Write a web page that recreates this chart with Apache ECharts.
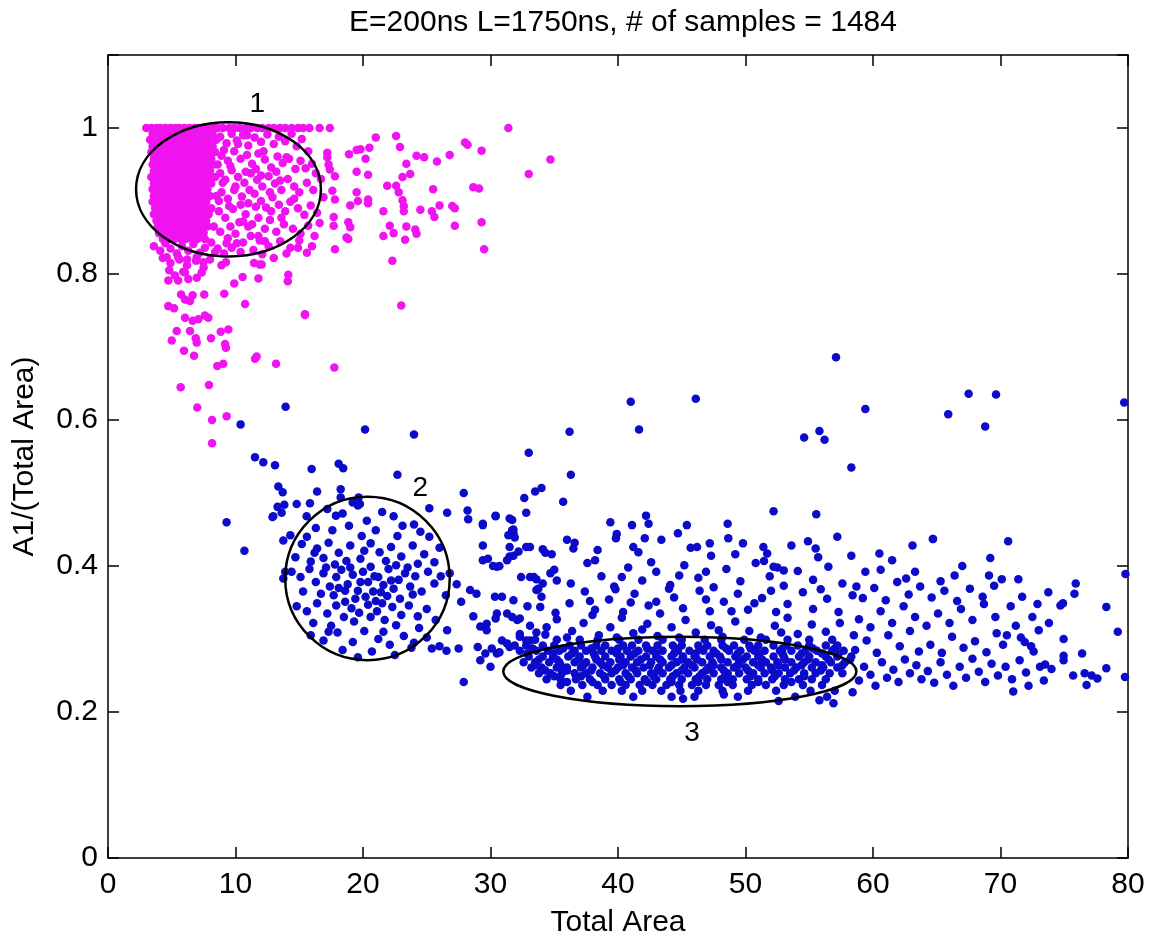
<!DOCTYPE html>
<html>
<head>
<meta charset="utf-8">
<script src="https://cdn.jsdelivr.net/npm/echarts@6/dist/echarts.min.js"></script>
<style>html,body{margin:0;padding:0;background:#fff}#c{width:1156px;height:940px}</style>
</head>
<body>
<div id="c"></div>
<script>
const titleText = 'E=200ns L=1750ns, # of samples = 1484';
const xName = 'Total Area';
const yName = 'A1/(Total Area)';
const xTicks = [0, 80, 10];
const yTicks = [0, 1.1, 0.2];

// magenta: points capped at A1/Total = 1
const magentaCapped = [[3.0,1],[3.4,1],[3.8,1],[4.1,1],[4.5,1],[4.9,1],[5.3,1],[5.6,1],[6.0,1],[6.4,1],[6.8,1],[7.1,1],[7.5,1],[7.9,1],[8.3,1],[8.6,1],[9.0,1],[9.5,1],[9.9,1],[10.3,1],[10.8,1],[11.2,1],[11.7,1],[12.1,1],[12.6,1],[13.0,1],[13.5,1],[13.9,1],[14.4,1],[14.9,1],[15.3,1],[15.8,1],[16.6,1],[17.4,1],[31.4,1]];

// magenta dense core: rows [y, x1, x2, ...]
const magentaCoreRows = [
[0.992,3.5,4.0,4.4,4.9,5.4,5.8,6.3,6.8,7.2,7.7,8.2],
[0.984,3.3,3.8,4.2,4.7,5.1,5.6,6.1,6.5,7.0,7.5,7.9,8.5],
[0.975,3.5,3.9,4.4,4.9,5.3,5.8,6.2,6.7,7.3,7.7,8.2],
[0.967,3.4,3.8,4.2,4.6,5.1,5.5,6.0,6.4,6.9,7.4,7.9,8.4],
[0.958,3.6,4.0,4.5,4.9,5.3,5.8,6.2,6.6,7.1,7.6,8.1],
[0.950,3.5,3.9,4.3,4.7,5.1,5.6,6.0,6.5,6.9,7.3,7.8,8.3],
[0.941,3.6,4.0,4.5,4.9,5.4,5.8,6.3,6.7,7.2,7.6,8.0],
[0.933,3.4,3.8,4.3,4.7,5.2,5.6,6.1,6.5,6.9,7.4,7.9,8.4],
[0.924,3.6,4.1,4.5,4.9,5.4,5.8,6.2,6.7,7.1,7.6,8.1],
[0.916,3.5,3.9,4.3,4.7,5.2,5.6,6.0,6.4,6.9,7.3,7.8],
[0.907,3.6,4.0,4.5,4.9,5.3,5.8,6.2,6.6,7.1,7.5,8.0,8.5],
[0.899,3.5,3.9,4.3,4.7,5.1,5.6,6.0,6.5,6.9,7.3,7.7],
[0.890,3.7,4.1,4.5,4.9,5.4,5.8,6.3,6.7,7.2,7.6,8.1],
[0.882,3.6,4.0,4.4,4.8,5.2,5.7,6.1,6.5,6.9,7.4,7.9],
[0.873,3.8,4.2,4.6,5.0,5.4,5.9,6.3,6.8,7.2,7.7],
[0.865,3.9,4.3,4.7,5.1,5.6,6.0,6.4,6.9,7.3,7.8,8.3],
[0.856,4.0,4.5,4.9,5.3,5.8,6.2,6.6,7.1,7.5],
[0.848,4.3,4.8,5.2,5.7,6.1,6.6,7.0,7.6]
];

const magentaMid = [[8.8,.988],[9.3,.979],[9.7,.992],[10.1,.983],[10.6,.99],[11.0,.976],[11.5,.987],[12.0,.981],[12.5,.991],[13.0,.978],[13.4,.988],[13.9,.982],[14.4,.992],[14.8,.975],[15.2,.985],[15.7,.968],[16.0,.951],[15.5,.945],
[8.9,.962],[9.4,.955],[9.9,.968],[10.4,.958],[10.9,.963],[11.3,.951],[11.8,.965],[12.3,.957],[12.8,.946],[13.3,.961],[13.7,.952],[14.2,.958],[14.7,.944],[15.1,.955],[16.3,.938],[16.7,.93],
[8.8,.938],[9.2,.929],[9.7,.942],[10.2,.933],[10.7,.925],[11.2,.938],[11.7,.929],[12.1,.92],[12.6,.934],[13.1,.924],[13.6,.915],[14.1,.93],[14.6,.92],[15.0,.912],[15.6,.925],[16.1,.915],
[8.9,.912],[9.4,.903],[9.9,.915],[10.5,.906],[11.0,.897],[11.5,.91],[12.0,.9],[12.4,.891],[12.9,.905],[13.4,.895],[13.9,.886],[14.3,.899],[14.9,.89],[15.4,.881],[15.9,.894],[16.4,.884],
[8.7,.886],[9.2,.877],[9.8,.889],[10.3,.871],[10.8,.882],[11.3,.868],[11.8,.877],[12.3,.862],[12.7,.874],[13.2,.858],[13.8,.868],[14.5,.862],[15.1,.855],[15.7,.866],[16.2,.852],
[8.8,.858],[9.4,.849],[10.0,.855],[10.6,.843],[11.2,.852],[11.9,.846],[12.6,.838],[13.5,.845],[14.3,.836],[15.0,.846],[16.0,.838],[16.6,.87],[16.9,.905],
[8.6,.835],[9.1,.828],[9.7,.836],[10.4,.83],[11.4,.833],[12.1,.827],[13.0,.822],[14.0,.828],
[9.1,.97],[9.6,.948],[10.0,.92],[10.4,.895],[10.8,.94],[11.1,.915],[11.6,.944],[12.2,.968],[12.7,.912],[13.2,.94],[10.2,.978],[9.0,.925],[9.5,.893],[9.6,.865],[10.1,.842],[11.0,.865],[11.6,.892],[12.3,.845],[12.8,.886],[13.5,.928],[14.0,.96],[14.6,.903],[10.6,.872],[9.3,.842],[8.7,.9],[8.6,.95],[11.8,.852],[13.6,.877],[12.0,.935],[10.9,.99]];

const magentaBelow = [[3.6,.838],[4.1,.832],[4.5,.842],[4.9,.835],[5.4,.828],[5.8,.838],[6.3,.832],[6.7,.841],[7.2,.829],[7.6,.836],[8.1,.843],[8.4,.83],[4.3,.822],[4.9,.815],[5.6,.82],[6.2,.812],[6.9,.818],[7.5,.809],[8.0,.82],[8.9,.812],[4.8,.805],[5.9,.803],
[4.6,.823],[5.5,.823],[6.2,.82],[6.96,.823],[7.47,.816],[9.25,.816],[11.45,.815],[11.9,.813]];

const magentaTail = [[4.73,.791],[5.5,.791],[5.25,.798],[6.04,.802],[6.3,.793],[6.96,.795],[7.35,.802],[10.56,.796],[11.8,.794],[9.9,.787],[9.12,.773],[14.14,.799],[10.75,.759],[15.45,.745],[5.73,.772],[6.04,.765],[6.43,.763],[6.64,.771],[7.55,.772],[4.73,.756],[5.18,.753],[6.04,.74],[6.64,.736],[7.08,.738],[7.6,.743],[7.87,.74],[5.39,.722],[6.43,.722],[6.88,.712],[6.96,.706],[5.0,.709],[8.08,.712],[8.84,.721],[9.44,.724],[9.18,.704],[9.25,.699],[5.96,.695],[6.75,.688],[8.57,.674],[9.04,.677],[11.53,.684],[11.66,.687],[13.18,.677],[17.75,.672],[5.7,.645],[7.92,.648],[7.0,.617],[8.16,.6],[9.31,.605],[8.16,.568],[15.6,.829],[14.9,.836],[17.8,.834],[12.05,.813]];

const magentaSpread = [[34.7,.957],[33.0,.937],[29.3,.969],[28.0,.98],[28.2,.977],[26.8,.963],[25.8,.954],[24.8,.96],[24.2,.962],[25.5,.916],[28.65,.919],[29.1,.917],[29.3,.871],[29.5,.834],[27.2,.866],[27.0,.893],[27.2,.89],[26.0,.894],[25.4,.886],[25.6,.878],[24.5,.888],[24.1,.861],[24.2,.855],[23.4,.865],[23.3,.847],[22.4,.856],[22.1,.866],[21.6,.852],[22.3,.818],[23.0,.757],[21.6,.886],[23.2,.886],[23.2,.893],[23.1,.901],[22.8,.912],[22.6,.921],[21.9,.921],[23.1,.933],[23.7,.937],[23.4,.951],[22.9,.974],[22.6,.989],[21.0,.987],[20.5,.973],[20.2,.958],[19.8,.971],[19.5,.97],[18.9,.964],[19.5,.94],[20.4,.936],[19.5,.912],[19.6,.9],[20.4,.902],[20.4,.897],[19.0,.894],[18.85,.871],[19.0,.864],[18.85,.848],[17.8,.934],[17.6,.914],[17.8,.902],[17.7,.878],[17.7,.866],[18.7,.85],[17.2,.966],[17.2,.96],[17.3,.95],[17.4,.943],[14.1,.79],[15.45,.744]];

const blueOutliers = [[10.4,.594],[13.93,.618],[20.16,.587],[24.0,.58],[11.53,.549],[12.18,.542],[13.1,.538],[15.97,.533],[18.09,.54],[18.45,.534],[22.7,.525],[13.36,.509],[13.7,.501],[16.4,.502],[18.25,.505],[18.25,.494],[13.3,.481],[13.83,.484],[14.8,.485],[15.84,.486],[19.19,.487],[19.76,.485],[13.62,.473],[12.9,.467],[15.58,.468],[17.88,.469],[19.66,.494],[25.2,.479],[26.6,.473],[24.0,.457],[9.3,.46],[10.7,.421],[33.0,.555],[27.9,.5],[33.5,.502],[34.0,.507],[32.65,.493],[28.2,.476],[28.25,.464],[29.4,.456],[30.4,.468],[31.7,.463],[32.8,.473],[41.0,.625],[46.1,.629],[41.65,.587],[36.2,.584],[36.3,.525],[35.7,.488],[52.2,.475],[39.4,.46],[41.1,.456],[42.2,.469],[42.4,.458],[45.4,.456],[44.7,.445],[48.6,.458],[57.1,.686],[67.5,.636],[69.65,.635],[79.7,.624],[59.4,.615],[65.9,.608],[68.8,.591],[54.6,.576],[55.8,.585],[56.2,.573],[58.3,.535],[55.55,.471],[54.9,.434],[55.5,.424],[64.7,.437],[70.6,.434],[63.1,.428]];

const blueCluster2 = [[17.2,.478],[18.4,.472],[19.6,.483],[20.3,.462],[21.5,.474],[22.4,.468],[23.1,.455],[18.9,.455],[17.6,.449],[16.3,.452],[15.6,.44],[24.5,.447],[21.0,.449],[19.9,.441],[22.7,.441],[25.2,.44],
[15.2,.43],[16.4,.424],[17.3,.432],[18.1,.418],[19.0,.428],[19.8,.41],[20.6,.431],[21.3,.419],[22.2,.426],[23.0,.413],[23.9,.428],[24.8,.416],[25.6,.405],[14.7,.412],[15.9,.406],[16.9,.411],[17.8,.402],[18.7,.407],[20.1,.421],[21.8,.407],[22.6,.401],[24.3,.403],[26.0,.425],[16.2,.418],
[14.4,.392],[15.1,.385],[15.8,.396],[16.3,.378],[16.9,.39],[17.4,.372],[17.9,.385],[18.3,.395],[18.8,.375],[19.2,.388],[19.6,.366],[20.0,.392],[20.4,.378],[20.8,.365],[21.2,.385],[21.6,.374],[22.0,.396],[22.4,.369],[22.8,.381],[23.3,.39],[23.7,.372],[24.1,.386],[24.6,.365],[25.1,.392],[25.6,.376],[26.1,.386],[26.5,.36],[15.3,.365],[16.7,.362],[17.7,.36],[18.6,.366],[19.4,.355],[20.2,.358],[21.0,.352],[21.9,.359],[22.9,.355],[23.9,.361],[19.0,.398],[20.6,.399],[21.4,.364],[17.1,.398],[23.5,.398],[18.1,.37],[22.2,.38],[20.9,.386],[19.8,.378],
[14.8,.345],[15.6,.338],[16.4,.349],[17.2,.335],[17.9,.346],[18.5,.33],[19.1,.342],[19.7,.336],[20.4,.347],[21.1,.338],[21.7,.326],[22.3,.344],[23.0,.333],[23.6,.346],[24.3,.331],[25.0,.341],[25.7,.326],[16.1,.322],[17.5,.318],[19.3,.324],[20.6,.33],[22.6,.319],[24.4,.315],[21.5,.349],[18.6,.351],
[15.9,.305],[16.9,.298],[18.0,.309],[19.2,.296],[20.1,.311],[21.2,.3],[22.1,.292],[23.2,.304],[24.0,.295],[25.0,.302],[18.4,.285],[20.7,.283],[22.5,.278],[19.6,.275],[23.8,.288],[17.3,.31],[21.6,.31],
[12.96,.468],[13.75,.435],[14.3,.442],[13.9,.392],[13.75,.383]];

const blueBridge = [[26.8,.39],[27.35,.375],[27.7,.351],[28.4,.367],[28.9,.362],[29.4,.408],[30.5,.399],[31.5,.413],[31.8,.445],[29.4,.428],[32.8,.426],[33.4,.385],[33.75,.369],
[25.4,.287],[26.0,.29],[26.55,.284],[27.5,.287],[27.9,.241],[26.6,.312],[29.2,.317],[29.7,.312],[29.2,.271],[30.0,.262],[30.5,.28],[31.3,.335],[32.1,.326],[30.5,.335],[30.35,.358],[31.8,.353],[32.3,.307],[32.8,.298],[31.5,.289],[33.9,.344],
[29.8,.41],[30.2,.4],[30.7,.4],[31.3,.408],[31.8,.414],[31.5,.426],[31.9,.439],[31.8,.45],[32.2,.42],[33.1,.426],[34.1,.423],[34.8,.416],[30.9,.358],[28.65,.331],[29.7,.321],[30.4,.328],[31.7,.33],[32.3,.328],[29.0,.289],[29.6,.28],[30.1,.287],[30.7,.282],[32.4,.385],[33.1,.385],[33.6,.367],[34.1,.376],[34.7,.39],[35.2,.38],[33.1,.298],[33.6,.309],[34.4,.316],[32.3,.303],[31.9,.291],[30.9,.298],[31.3,.294]];

// cluster 3 dense band: rows [y, x1, x2, ...]
const blueBandRows = [
[0.299,33.5,35.2,37.0,38.4,40.1,41.6,43.5,45.0,46.8,48.1,49.9,51.6,53.3,55.0,56.8],
[0.291,32.8,34.1,35.0,36.2,37.1,38.3,39.0,40.4,41.1,42.2,43.1,44.3,45.0,46.3,47.0,48.2,49.1,50.3,51.0,52.2,53.2,54.1,55.0,56.3,57.2],
[0.284,32.3,33.6,34.5,35.4,36.6,37.5,38.7,39.5,40.7,41.6,42.7,43.5,44.7,45.6,46.7,47.5,48.7,49.6,50.7,51.5,52.7,53.6,54.7,55.6,56.8,57.7],
[0.276,33.0,34.1,34.9,36.1,37.0,38.2,39.0,40.2,41.0,42.2,43.0,44.2,45.1,46.0,47.2,48.0,49.2,50.1,51.0,52.2,53.0,54.2,55.0,56.3,57.2,58.3],
[0.268,32.6,33.5,34.6,35.4,36.6,37.5,38.6,39.4,40.6,41.5,42.6,43.5,44.6,45.5,46.6,47.4,48.6,49.5,50.6,51.6,52.5,53.6,54.6,55.5,56.7,57.8],
[0.261,33.2,34.0,35.2,36.0,37.1,38.0,39.2,40.0,41.1,42.0,43.2,44.0,45.2,46.0,47.1,48.1,49.1,50.0,51.2,52.0,53.1,54.0,55.2,56.1,57.2],
[0.253,33.8,34.7,35.6,36.6,37.5,38.6,39.5,40.6,41.5,42.6,43.5,44.6,45.5,46.6,47.5,48.6,49.5,50.6,51.5,52.6,53.5,54.6,55.5,56.6,57.6],
[0.245,34.4,35.5,36.7,37.8,39.0,40.1,41.0,42.1,43.0,44.1,45.0,46.1,47.0,48.1,49.0,50.1,51.0,52.1,53.1,54.2,55.2,56.3],
[0.237,35.5,37.2,38.4,39.5,40.6,41.7,42.7,43.8,44.8,45.8,46.9,47.9,49.0,50.5,51.6,53.0,54.5,56.0],
[0.229,36.3,38.8,40.3,41.9,43.4,44.9,46.3,48.2,50.2,52.4,55.1,57.0],
[0.221,37.6,41.2,44.2,46.0,49.4,53.9,56.4]
];

// extra band points lying between the rows above
const blueBandFillRows = [
[0.287,33.3,35.7,37.9,40.0,42.3,44.5,46.4,48.5,50.4,52.9,55.3,57.0],
[0.280,32.9,34.9,36.4,38.1,39.9,41.3,43.0,44.4,46.1,47.7,49.4,51.1,52.9,54.4,56.0,57.3],
[0.272,33.8,35.2,36.9,38.3,40.1,41.8,43.3,45.0,46.2,48.1,49.8,51.3,53.1,54.9,56.5,58.2],
[0.264,33.6,35.5,37.3,38.8,40.4,42.5,44.2,45.8,47.5,49.4,51.0,52.6,54.4,56.0,57.6],
[0.257,34.3,36.0,37.9,39.8,41.4,43.1,45.0,46.9,48.3,50.2,52.1,53.8,55.9],
[0.249,35.0,37.1,38.9,40.8,42.8,44.3,46.4,48.4,50.4,52.3,54.6],
[0.241,36.0,38.0,40.2,42.3,44.2,46.3,48.6,51.0,53.6]
];

const blueAboveBand = [[33.1,.318],[34.3,.306],[35.2,.327],[36.4,.311],[37.3,.322],[38.5,.305],[39.4,.316],[40.3,.329],[41.2,.308],[42.3,.321],[43.1,.304],[44.2,.316],[45.3,.326],[46.1,.309],[47.3,.319],[48.2,.303],[49.2,.324],[50.3,.311],[51.2,.302],[52.3,.318],[53.3,.329],[54.1,.307],[55.2,.32],[56.3,.31],[57.4,.322],[58.5,.305],[36.0,.302],[39.9,.302],[44.8,.302],[47.9,.312],[52.8,.309],[41.9,.313],[38.0,.333],
[32.9,.345],[34.0,.358],[35.1,.336],[36.2,.349],[37.4,.365],[38.2,.34],[39.3,.354],[40.4,.337],[41.3,.362],[42.4,.346],[43.3,.335],[44.4,.357],[45.1,.342],[46.4,.366],[47.2,.338],[48.3,.351],[49.4,.362],[50.2,.34],[51.3,.356],[52.4,.337],[53.3,.348],[54.5,.364],[55.3,.341],[56.4,.355],[57.3,.337],[58.4,.36],[37.8,.352],[41.0,.35],[44.0,.369],[48.9,.338],[52.0,.366],[55.9,.368],[39.8,.368],[43.0,.351],[46.9,.354],[50.7,.349],
[33.6,.382],[35.0,.395],[36.3,.376],[37.6,.404],[38.7,.386],[39.7,.372],[40.8,.398],[41.9,.38],[43.0,.392],[44.1,.374],[45.2,.401],[46.3,.384],[47.5,.371],[48.5,.396],[49.6,.379],[50.8,.404],[51.9,.386],[53.0,.373],[54.1,.393],[55.3,.381],[56.5,.399],[57.6,.376],[38.2,.408],[42.6,.405],[46.9,.392],[52.5,.398],[40.3,.385],[44.8,.387],
[34.3,.418],[36.6,.432],[38.4,.422],[39.9,.444],[41.6,.419],[43.4,.436],[45.7,.425],[47.3,.414],[49.8,.431],[51.7,.417],[53.6,.428],[55.7,.412],[57.2,.44],[36.0,.436],[41.2,.426],[46.2,.426],[47.2,.431],[48.65,.438],[49.2,.416],[51.4,.426],[51.45,.407],[52.2,.399],[53.0,.394],[39.84,.438],[42.1,.438],[36.5,.424],[31.5,.465],[31.7,.449],[31.4,.442],[30.4,.469],[29.4,.458],
[56.9,.212],[55.8,.216],[45.1,.218],[52.6,.215],[48.3,.224]];

const blueRight = [[58.4,.227],[58.9,.243],[59.3,.262],[59.8,.251],[60.2,.236],[60.7,.268],[61.1,.247],[61.6,.258],[62.0,.241],[62.5,.272],[62.9,.253],[63.4,.264],[63.8,.245],[58.6,.285],[59.5,.298],[60.3,.281],[61.2,.305],[62.1,.29],[62.9,.311],[63.6,.283],[58.9,.327],[59.8,.316],[60.6,.338],[61.5,.322],[62.4,.345],[63.3,.33],[59.2,.356],[60.1,.37],[61.0,.353],[61.9,.378],[62.8,.361],[63.7,.372],[58.3,.414],[60.5,.417],[61.5,.408],[60.6,.395],[62.6,.383],[63.3,.392],[64.7,.437],[59.4,.392],[58.7,.372],
[64.3,.256],[64.8,.24],[65.3,.268],[65.8,.251],[66.3,.236],[66.8,.262],[67.3,.247],[67.8,.273],[68.3,.255],[68.8,.241],[69.3,.266],[69.8,.25],[64.5,.292],[65.4,.281],[66.2,.303],[67.1,.288],[68.0,.297],[68.9,.282],[69.7,.308],[64.2,.318],[65.1,.335],[66.0,.322],[66.9,.341],[67.8,.326],[68.7,.348],[69.6,.33],[64.6,.357],[65.6,.366],[66.6,.352],[67.6,.369],[68.6,.358],[69.5,.373],[67.0,.4],[69.2,.411],[66.4,.387],[69.1,.387],[65.3,.379],
[70.1,.382],[71.4,.382],[70.4,.262],[70.9,.245],[71.5,.271],[72.0,.254],[72.6,.283],[73.1,.262],[73.4,.243],[73.5,.265],[74.0,.259],[74.95,.3],[74.95,.277],[74.95,.271],[75.7,.25],[76.6,.253],[77.15,.25],[77.6,.246],[78.3,.26],[79.76,.248],[76.75,.237],[76.4,.28],[75.9,.376],[75.8,.362],[73.75,.364],[74.7,.346],[74.9,.349],[78.3,.344],[79.2,.31],[79.8,.389],[70.5,.305],[71.2,.318],[71.9,.296],[72.5,.33],[73.0,.312],[70.8,.345],[71.7,.358],[72.4,.29],[72.9,.348],[73.8,.322],[71.0,.228],[72.2,.236],[70.2,.292],[71.6,.302]];

// ellipse annotations: [cx, cy, rx, ry]
const ellipses = [[9.45,0.916,7.25,0.092],[20.35,0.383,6.45,0.112],[44.85,0.2555,13.85,0.0475]];
const ellipseLabels = [[11.7,1.033,'1'],[24.5,0.506,'2'],[45.8,0.171,'3']];

const fromRows = rows => rows.flatMap(r => r.slice(1).map(x => [x, r[0]]));
const magentaData = [].concat(magentaCapped, fromRows(magentaCoreRows), magentaMid, magentaBelow, magentaTail, magentaSpread);
const blueData = [].concat(blueOutliers, blueCluster2, blueBridge, fromRows(blueBandRows), fromRows(blueBandFillRows), blueAboveBand, blueRight);

const FONT = "'Liberation Sans',Arial,sans-serif";
const FS = 30;
const chart = echarts.init(document.getElementById('c'), null, {renderer: 'canvas'});
const axisCommon = {
  type: 'value',
  axisLine: {show: true, onZero: false, lineStyle: {color: '#000', width: 1.5}},
  axisTick: {show: true, inside: true, length: 11, lineStyle: {color: '#000', width: 1.5}},
  splitLine: {show: false}
};
chart.setOption({
  backgroundColor: '#fff',
  animation: false,
  title: {text: titleText, left: 618, textAlign: 'center', top: 3,
    textStyle: {fontFamily: FONT, fontSize: FS, fontWeight: 'normal', color: '#000'}},
  grid: {left: 108, right: 28, top: 55, bottom: 82, containLabel: false, outerBoundsMode: 'none'},
  xAxis: [
    Object.assign({}, axisCommon, {min: xTicks[0], max: xTicks[1], interval: xTicks[2], position: 'bottom',
      name: xName, nameLocation: 'middle', nameGap: 50,
      nameTextStyle: {fontFamily: FONT, fontSize: FS, color: '#000'},
      axisLabel: {fontFamily: FONT, fontSize: FS, color: '#000', margin: 12}}),
    Object.assign({}, axisCommon, {min: xTicks[0], max: xTicks[1], interval: xTicks[2], position: 'top',
      axisLabel: {show: false}})
  ],
  yAxis: [
    Object.assign({}, axisCommon, {min: yTicks[0], max: yTicks[1], interval: yTicks[2], position: 'left',
      name: yName, nameLocation: 'middle', nameGap: 68,
      nameTextStyle: {fontFamily: FONT, fontSize: FS, color: '#000'},
      axisLabel: {fontFamily: FONT, fontSize: FS, color: '#000', margin: 10,
        formatter: v => (v > 1.05 ? '' : String(+v.toFixed(1)))}}),
    Object.assign({}, axisCommon, {min: yTicks[0], max: yTicks[1], interval: yTicks[2], position: 'right',
      axisLabel: {show: false}})
  ],
  series: [
    {type: 'scatter', data: magentaData, symbol: 'circle', symbolSize: 8.5,
      itemStyle: {color: '#f014f0', opacity: 1}, z: 2},
    {type: 'scatter', data: blueData, symbol: 'circle', symbolSize: 8.5,
      itemStyle: {color: '#0b0bc9', opacity: 1}, z: 2},
    {type: 'custom', data: ellipses, z: 5, encode: {x: 0, y: 1},
      renderItem: (params, api) => {
        const c = api.coord([api.value(0), api.value(1)]);
        const s = api.size([api.value(2), api.value(3)]);
        return {type: 'ellipse', shape: {cx: c[0], cy: c[1], rx: s[0], ry: s[1]},
          style: {fill: 'none', stroke: '#000', lineWidth: 2.5}};
      }},
    {type: 'custom', data: ellipseLabels, z: 6, silent: true, encode: {x: 0, y: 1},
      renderItem: (params, api) => {
        const c = api.coord([api.value(0), api.value(1)]);
        return {type: 'text', x: c[0], y: c[1],
          style: {text: ellipseLabels[params.dataIndex][2], fill: '#000',
            font: "28px 'Liberation Sans', Arial, sans-serif", textAlign: 'center', textVerticalAlign: 'middle'}};
      }}
  ]
});
</script>
</body>
</html>
